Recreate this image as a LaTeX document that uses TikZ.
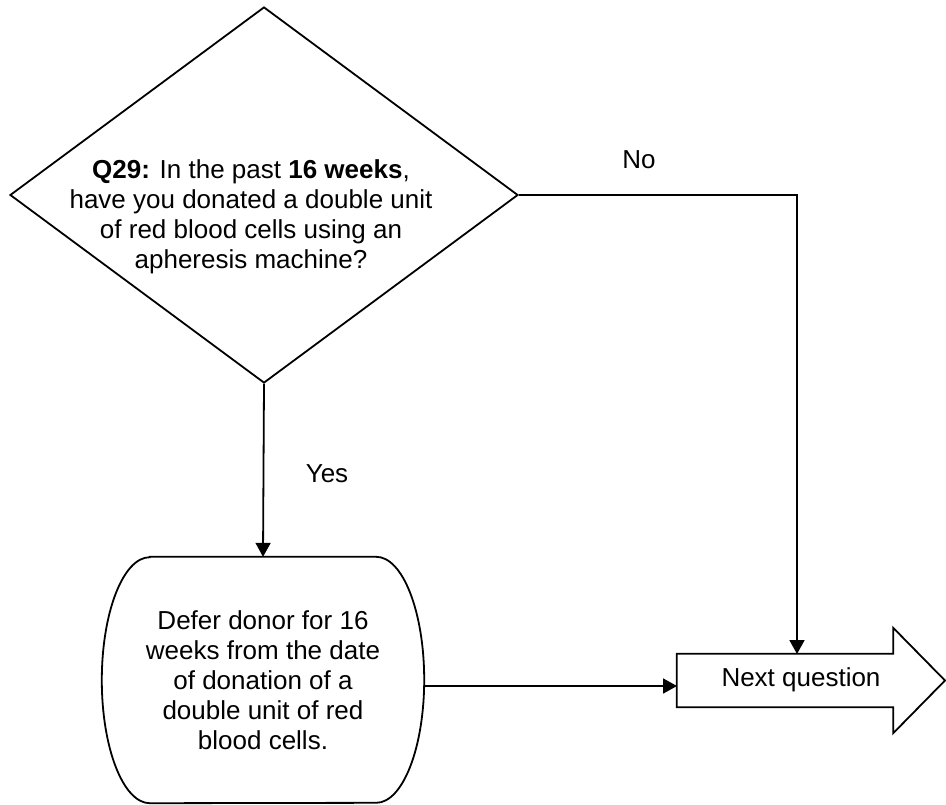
\documentclass[tikz,border=0pt]{standalone}
\usepackage{fontspec}
\setmainfont{Liberation Sans}
\usetikzlibrary{shapes.geometric,arrows.meta,calc}
\begin{document}
\begin{tikzpicture}[x=1pt,y=1pt,
  every node/.style={font=\fontsize{26}{30}\selectfont},
  outline/.style={draw=black,line width=1.8pt,line join=miter},
  arr/.style={draw=black,line width=1.8pt,-{Triangle[length=14pt,width=15pt]}},
  txt/.style={align=center,inner sep=0pt}]
\useasboundingbox[fill=white] (0,0) rectangle (946,-804);
% decision
\node[diamond,outline,minimum width=508pt,minimum height=376pt,inner sep=0pt] (q) at (264,-195) {};
\node[txt] (qt) at (251,-217) {\textbf{Q29:} In the past \textbf{16 weeks},\\have you donated a double unit\\of red blood cells using an\\apheresis machine?};
% defer box
\node[txt,minimum width=322pt,minimum height=246pt] (defer) at (263,-680) {Defer donor for 16\\weeks from the date\\of donation of a\\double unit of red\\blood cells.};
\draw[outline] ($(defer.north west)+(48,0)$) -- ($(defer.north east)+(-48,0)$)
  arc[start angle=90,end angle=-90,x radius=48,y radius=123]
  -- ($(defer.south west)+(48,0)$)
  arc[start angle=270,end angle=90,x radius=48,y radius=123] -- cycle;
% next question arrow
\node[inner sep=0pt,minimum width=216pt,minimum height=53pt] (next) at (785,-680.5) {};
\node[txt] (nextlabel) at (801,-680) {Next question};
\coordinate (tip) at (945,-680.5);
\draw[outline] (next.north west) -- (next.north east) -- ++(0,26) -- (tip)
  -- ($(next.south east)+(0,-26)$) -- (next.south east) -- (next.south west) -- cycle;
% connectors
\coordinate (nin) at (797,-654);
\coordinate (din) at (677,-686);
\draw[arr] (q.south) -- (defer.north);
\draw[arr] (q.east) -| (nin);
\draw[arr] (defer.east |- din) -- (din);
% labels
\node (no) at (639,-160) {No};
\node (yes) at (327,-474) {Yes};
\end{tikzpicture}
\end{document}
